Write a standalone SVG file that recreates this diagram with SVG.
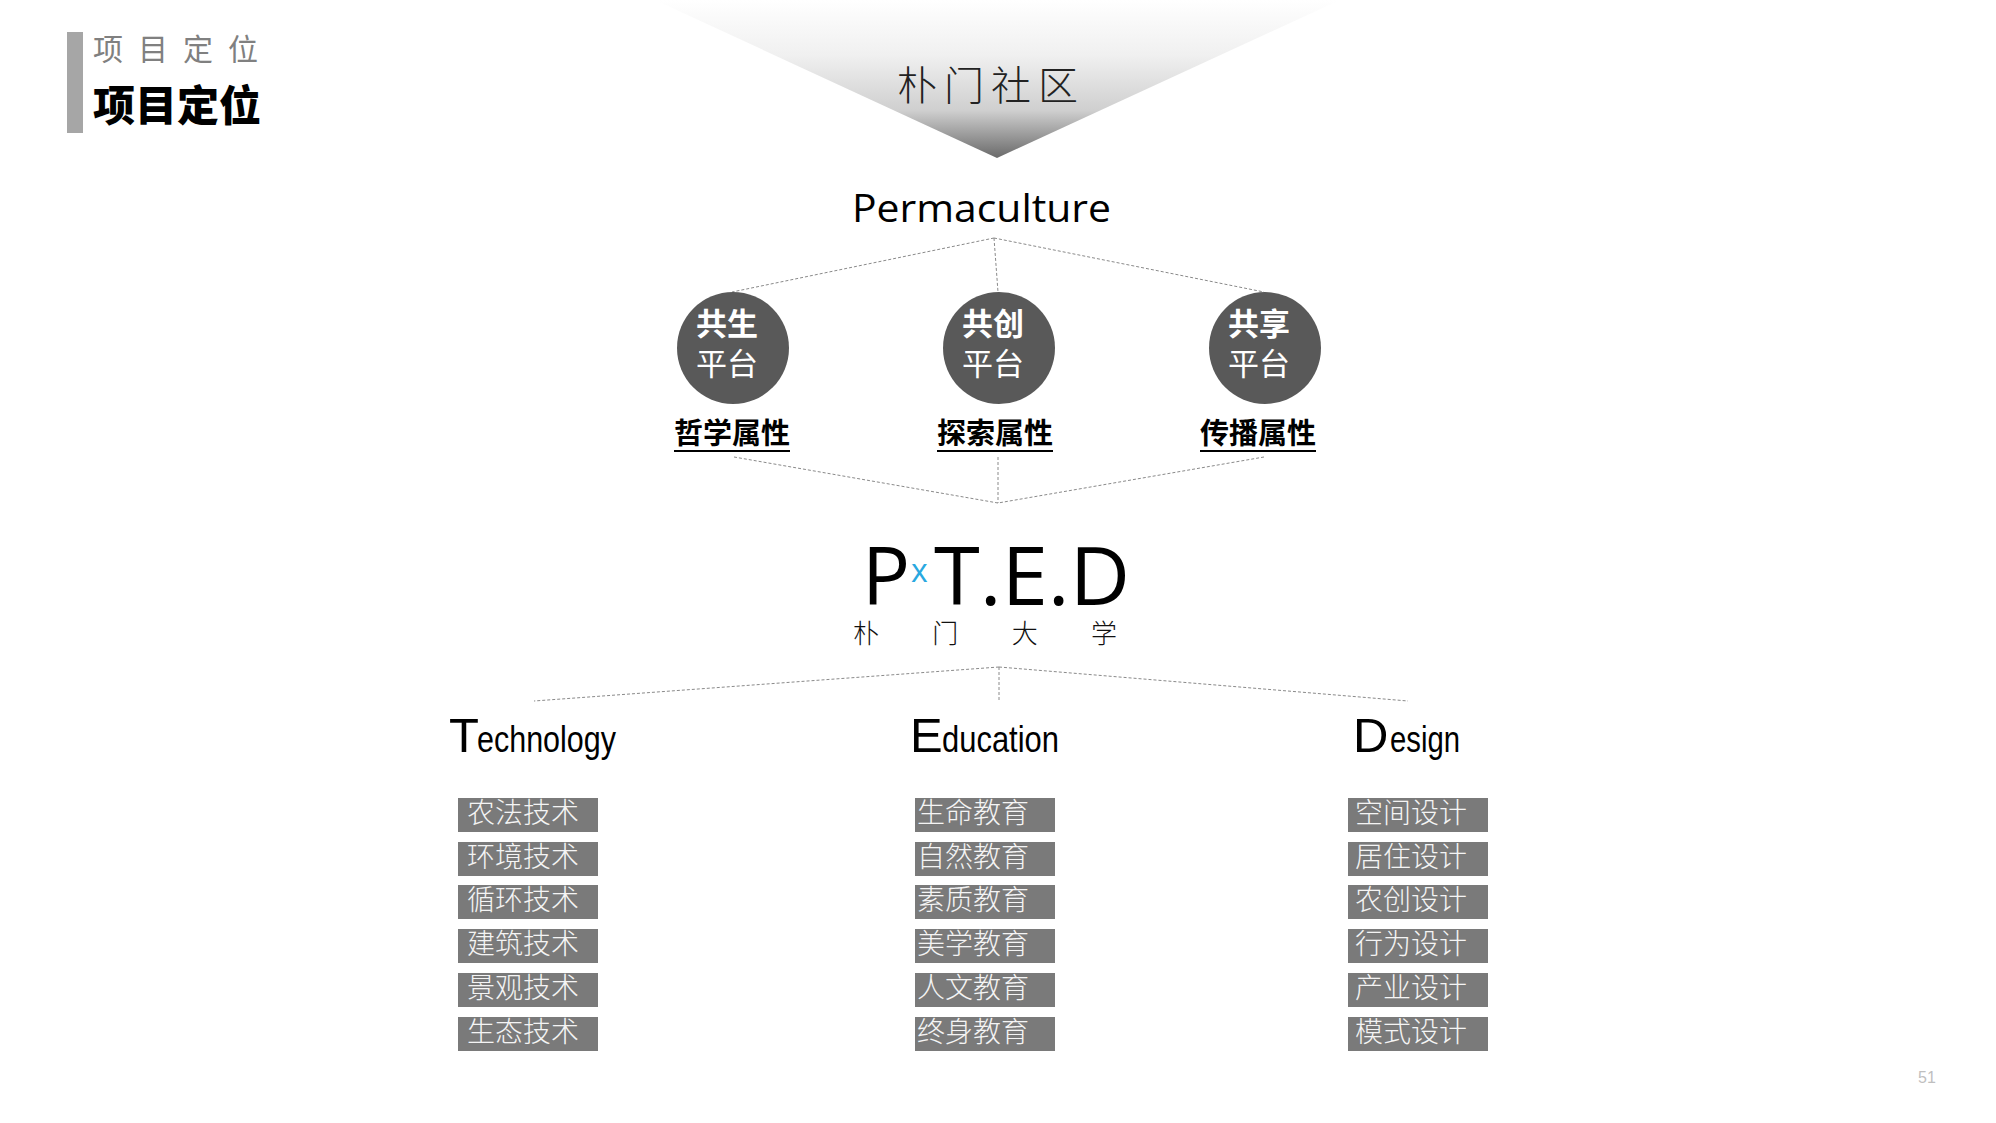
<svg xmlns="http://www.w3.org/2000/svg" width="1996" height="1123" viewBox="0 0 1996 1123">
<defs>
<linearGradient id="tri" x1="0" y1="0" x2="0" y2="1">
<stop offset="0" stop-color="#ffffff"/>
<stop offset="0.35" stop-color="#f0f0f0"/>
<stop offset="0.7" stop-color="#cfcfcf"/>
<stop offset="1" stop-color="#6a6a6a"/>
</linearGradient>
<style>
.cjk{font-family:"Noto Sans CJK SC","Noto Sans",sans-serif;}
.lat{font-family:"Open Sans","Liberation Sans",sans-serif;}
.head{font-family:"Liberation Sans",Arial,sans-serif;fill:#000;}
.conn{stroke:#8a8a8a;stroke-width:1;stroke-dasharray:3 2;fill:none;}
.circ{fill:#595959;}
.ctxt{fill:#ffffff;font-size:31px;}
.lbl{font-size:29px;font-weight:700;fill:#000;}
.ul{stroke:#000;stroke-width:2;}
.box{fill:#7a7a7a;}
.btxt{fill:#f4f4f4;font-size:28px;font-weight:300;}
</style>
</defs>
<rect width="1996" height="1123" fill="#ffffff"/>

<g id="header">
<rect x="67" y="32" width="16" height="101" fill="#a6a6a6"/>
<text class="cjk" x="93" y="60" font-size="30" fill="#808080" textLength="165" lengthAdjust="spacing">项 目 定 位</text>
<text class="cjk" x="93" y="121" font-size="42" font-weight="900" fill="#000">项目定位</text>
</g>

<g id="community">
<polygon points="655,0 1340,0 997,158" fill="url(#tri)"/>
<text class="cjk" x="897" y="100" font-size="40" font-weight="300" fill="#222" textLength="181" lengthAdjust="spacing">朴门社区</text>
</g>

<g id="permaculture">
<text class="lat" x="852" y="222" font-size="38" fill="#000" textLength="259" lengthAdjust="spacingAndGlyphs">Permaculture</text>
</g>

<g id="connectors">
<line class="conn" x1="994" y1="238" x2="732" y2="292"/>
<line class="conn" x1="994" y1="238" x2="998" y2="292"/>
<line class="conn" x1="994" y1="238" x2="1264" y2="292"/>
<line class="conn" x1="734" y1="457" x2="998" y2="503"/>
<line class="conn" x1="998" y1="457" x2="998" y2="503"/>
<line class="conn" x1="1264" y1="457" x2="998" y2="503"/>
<line class="conn" x1="999" y1="667" x2="534" y2="701"/>
<line class="conn" x1="999" y1="667" x2="999" y2="701"/>
<line class="conn" x1="999" y1="667" x2="1408" y2="701"/>
</g>

<g id="platform-symbiosis">
<circle class="circ" cx="733" cy="348" r="56"/>
<text class="cjk ctxt" x="696" y="335" font-weight="700">共生</text>
<text class="cjk ctxt" x="696" y="375">平台</text>
<text class="cjk lbl" x="674" y="444">哲学属性</text>
<line class="ul" x1="674" y1="451" x2="790" y2="451"/>
</g>

<g id="platform-cocreation">
<circle class="circ" cx="999" cy="348" r="56"/>
<text class="cjk ctxt" x="962" y="335" font-weight="700">共创</text>
<text class="cjk ctxt" x="962" y="375">平台</text>
<text class="cjk lbl" x="937" y="444">探索属性</text>
<line class="ul" x1="937" y1="451" x2="1053" y2="451"/>
</g>

<g id="platform-sharing">
<circle class="circ" cx="1265" cy="348" r="56"/>
<text class="cjk ctxt" x="1228" y="335" font-weight="700">共享</text>
<text class="cjk ctxt" x="1228" y="375">平台</text>
<text class="cjk lbl" x="1200" y="444">传播属性</text>
<line class="ul" x1="1200" y1="451" x2="1316" y2="451"/>
</g>

<g id="pted">
<text class="lat" x="862" y="605" font-size="80" fill="#000">P</text>
<text class="lat" x="911" y="582" font-size="32" fill="#29a8e0">x</text>
<text class="lat" x="934" y="605" font-size="80" fill="#000" textLength="196" lengthAdjust="spacingAndGlyphs">T.E.D</text>
<text class="cjk" x="853" y="643" font-size="26" font-weight="300" fill="#111" textLength="264" lengthAdjust="spacing">朴 门 大 学</text>
</g>

<g id="technology">
<text class="head" x="449" y="752" font-size="49">T</text>
<text class="head" x="477" y="752" font-size="36" textLength="139" lengthAdjust="spacingAndGlyphs">echnology</text>
<rect class="box" x="458" y="798" width="140" height="34"/>
<text class="cjk btxt" x="467" y="823">农法技术</text>
<rect class="box" x="458" y="842" width="140" height="34"/>
<text class="cjk btxt" x="467" y="867">环境技术</text>
<rect class="box" x="458" y="885" width="140" height="34"/>
<text class="cjk btxt" x="467" y="910">循环技术</text>
<rect class="box" x="458" y="929" width="140" height="34"/>
<text class="cjk btxt" x="467" y="954">建筑技术</text>
<rect class="box" x="458" y="973" width="140" height="34"/>
<text class="cjk btxt" x="467" y="998">景观技术</text>
<rect class="box" x="458" y="1017" width="140" height="34"/>
<text class="cjk btxt" x="467" y="1042">生态技术</text>
</g>

<g id="education">
<text class="head" x="910" y="752" font-size="49">E</text>
<text class="head" x="942" y="752" font-size="36" textLength="117" lengthAdjust="spacingAndGlyphs">ducation</text>
<rect class="box" x="915" y="798" width="140" height="34"/>
<text class="cjk btxt" x="917" y="823">生命教育</text>
<rect class="box" x="915" y="842" width="140" height="34"/>
<text class="cjk btxt" x="917" y="867">自然教育</text>
<rect class="box" x="915" y="885" width="140" height="34"/>
<text class="cjk btxt" x="917" y="910">素质教育</text>
<rect class="box" x="915" y="929" width="140" height="34"/>
<text class="cjk btxt" x="917" y="954">美学教育</text>
<rect class="box" x="915" y="973" width="140" height="34"/>
<text class="cjk btxt" x="917" y="998">人文教育</text>
<rect class="box" x="915" y="1017" width="140" height="34"/>
<text class="cjk btxt" x="917" y="1042">终身教育</text>
</g>

<g id="design">
<text class="head" x="1353" y="752" font-size="49">D</text>
<text class="head" x="1390" y="752" font-size="36" textLength="70" lengthAdjust="spacingAndGlyphs">esign</text>
<rect class="box" x="1348" y="798" width="140" height="34"/>
<text class="cjk btxt" x="1355" y="823">空间设计</text>
<rect class="box" x="1348" y="842" width="140" height="34"/>
<text class="cjk btxt" x="1355" y="867">居住设计</text>
<rect class="box" x="1348" y="885" width="140" height="34"/>
<text class="cjk btxt" x="1355" y="910">农创设计</text>
<rect class="box" x="1348" y="929" width="140" height="34"/>
<text class="cjk btxt" x="1355" y="954">行为设计</text>
<rect class="box" x="1348" y="973" width="140" height="34"/>
<text class="cjk btxt" x="1355" y="998">产业设计</text>
<rect class="box" x="1348" y="1017" width="140" height="34"/>
<text class="cjk btxt" x="1355" y="1042">模式设计</text>
</g>

<g id="page-number">
<text x="1918" y="1083" font-family="Liberation Sans, sans-serif" font-size="16" fill="#bfbfbf">51</text>
</g>
</svg>
